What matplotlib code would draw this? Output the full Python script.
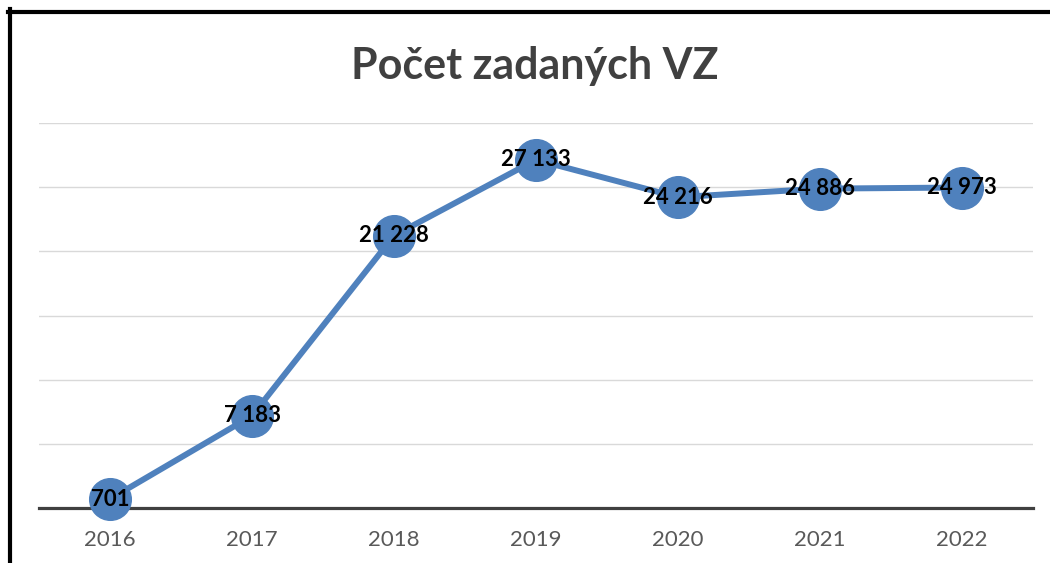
import matplotlib
matplotlib.use('Agg', force=True)
import matplotlib.pyplot as plt
from matplotlib.lines import Line2D

# -------------------------------
# Dati
# -------------------------------
roky = ['2016', '2017', '2018', '2019', '2020', '2021', '2022']
pocty = [701, 7183, 21228, 27133, 24216, 24886, 24973]
popisky = ['701', '7 183', '21 228', '27 133', '24 216', '24 886', '24 973']

modra = '#4F81BD'
seda = '#404040'

plt.rcParams['font.family'] = ['Lato', 'DejaVu Sans']

fig = plt.figure(figsize=(10.5, 5.63), dpi=100)
ax = fig.add_axes([39 / 1050, 55 / 563, 994 / 1050, 385 / 563])

x = list(range(len(roky)))
ax.plot(x, pocty, color=modra, linewidth=4.3, marker='o', markersize=30,
        markerfacecolor=modra, markeredgecolor=modra, clip_on=False, zorder=3)

for xi, yi, txt in zip(x, pocty, popisky):
    ax.text(xi, yi, txt, ha='center', va='center', fontsize=16,
            fontweight='bold', color='black', zorder=4)

ax.set_xlim(-0.5, len(roky) - 0.5)
ax.set_ylim(0, 30000)
ax.set_yticks(range(0, 30001, 5000))
ax.set_xticks(x)
ax.set_xticklabels(roky, fontsize=16, color='#595959')
ax.tick_params(axis='x', length=0, pad=16)
ax.tick_params(axis='y', length=0, labelleft=False)
ax.grid(axis='y', color='#D9D9D9', linewidth=1)
ax.set_axisbelow(True)
for s in ['top', 'right', 'left']:
    ax.spines[s].set_visible(False)
ax.spines['bottom'].set_color(seda)
ax.spines['bottom'].set_linewidth(2.3)
ax.spines['bottom'].set_zorder(2)

fig.text(535 / 1050, 1 - 66 / 563, 'Počet zadaných VZ', ha='center', va='center',
         fontsize=31, fontweight='bold', color=seda)

# okraj grafu
fig.add_artist(Line2D([10 / 1050, 10 / 1050], [0, 1 - 9 / 563], color='black',
                      linewidth=3, transform=fig.transFigure))
fig.add_artist(Line2D([8 / 1050, 1], [1 - 11.5 / 563, 1 - 11.5 / 563], color='black',
                      linewidth=3, transform=fig.transFigure))

fig.savefig('out.png', dpi=100)
